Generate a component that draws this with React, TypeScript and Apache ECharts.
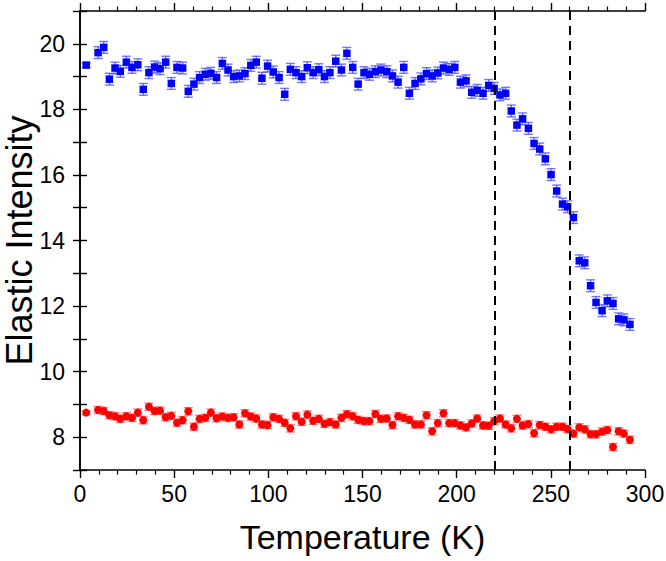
import React, { useEffect, useRef } from "react";
import * as echarts from "echarts";

const temps = [
  3.3, 9.6, 12.6, 15.6, 18.6, 21.4, 24.6, 27.6, 30.7, 33.6, 36.6, 39.6, 42.5, 45.5, 48.5, 51.5,
  54.5, 57.5, 60.5, 63.5, 66.6, 69.5, 72.5, 75.6, 78.6, 81.6, 84.6, 87.6, 90.7, 93.6, 96.6, 99.6,
  102.6, 105.7, 108.7, 111.7, 114.7, 117.7, 120.7, 123.8, 126.8, 129.8, 132.7, 135.8, 138.8, 141.7,
  144.8, 147.7, 150.8, 153.7, 156.8, 159.8, 162.9, 165.9, 168.9, 171.9, 174.9, 177.9, 181.0, 184.0,
  187.0, 190.0, 193.0, 196.0, 199.0, 202.0, 205.0, 208.0, 210.9, 214.0, 217.0, 219.9, 223.0, 226.0,
  229.0, 232.0, 235.0, 238.1, 241.1, 244.1, 247.1, 250.1, 253.1, 256.2, 258.9, 262.0, 265.1, 268.0,
  271.1, 274.0, 277.2, 280.0, 283.0, 286.0, 288.8, 292.0,
];

const blueValues = [
  19.35, 19.73, 19.89, 18.92, 19.26, 19.16, 19.44, 19.28, 19.36, 18.61, 19.12, 19.29, 19.24, 19.44,
  18.79, 19.28, 19.26, 18.55, 18.77, 18.97, 19.07, 19.1, 18.97, 19.4, 19.2, 19.0, 19.02, 19.09,
  19.34, 19.44, 18.95, 19.32, 19.14, 18.97, 18.46, 19.22, 19.12, 19.0, 19.27, 19.12, 19.21, 19.0,
  19.12, 19.47, 19.2, 19.71, 19.28, 18.77, 19.12, 19.07, 19.15, 19.2, 19.15, 19.02, 18.83, 19.28,
  18.49, 18.79, 18.93, 19.09, 19.02, 19.11, 19.26, 19.22, 19.28, 18.83, 18.87, 18.52, 18.58, 18.49,
  18.73, 18.64, 18.44, 18.49, 17.95, 17.52, 17.71, 17.42, 16.96, 16.79, 16.49, 16.01, 15.51, 15.11,
  15.03, 14.7, 13.38, 13.32, 12.62, 12.11, 11.86, 12.16, 12.08, 11.61, 11.58, 11.44,
];

const redValues = [
  8.75, 8.83, 8.8, 8.67, 8.64, 8.56, 8.64, 8.59, 8.75, 8.52, 8.93, 8.8, 8.81, 8.61, 8.65, 8.44,
  8.52, 8.79, 8.32, 8.56, 8.59, 8.75, 8.58, 8.63, 8.59, 8.61, 8.39, 8.73, 8.63, 8.57, 8.39, 8.37,
  8.61, 8.56, 8.44, 8.27, 8.64, 8.47, 8.69, 8.5, 8.56, 8.41, 8.46, 8.39, 8.59, 8.7, 8.64, 8.53,
  8.49, 8.49, 8.71, 8.56, 8.57, 8.37, 8.64, 8.59, 8.53, 8.39, 8.39, 8.67, 8.18, 8.43, 8.73, 8.43,
  8.43, 8.36, 8.3, 8.42, 8.57, 8.36, 8.35, 8.49, 8.57, 8.39, 8.27, 8.56, 8.36, 8.4, 8.12, 8.37,
  8.32, 8.24, 8.32, 8.32, 8.25, 8.11, 8.3, 8.24, 8.09, 8.09, 8.17, 8.22, 7.7, 8.18, 8.11, 7.92,
];

const BLUE_ERR = 0.18;
const BLUE_ERR_FIRST = 0.07;
const RED_ERR = 0.11;
const RED_ERR_FIRST = 0.06;

const transitionTemps = [220, 260];
const yLabelValues = [8, 10, 12, 14, 16, 18, 20];

const FONT = "'Liberation Sans', Arial, sans-serif";

function errorSeries(values: number[], err: number, errFirst: number, color: string) {
  const data = temps.map((t, i) => [t, values[i], i === 0 ? errFirst : err]);
  return {
    type: "custom",
    silent: true,
    z: 2,
    data,
    renderItem: (_params: any, api: any) => {
      const x = api.value(0);
      const y = api.value(1);
      const e = api.value(2);
      const top = api.coord([x, y + e]);
      const bot = api.coord([x, y - e]);
      const hw = 4.5;
      const style = { stroke: color, lineWidth: 1.4 };
      return {
        type: "group",
        children: [
          { type: "line", shape: { x1: top[0], y1: top[1], x2: bot[0], y2: bot[1] }, style },
          { type: "line", shape: { x1: top[0] - hw, y1: top[1], x2: top[0] + hw, y2: top[1] }, style },
          { type: "line", shape: { x1: bot[0] - hw, y1: bot[1], x2: bot[0] + hw, y2: bot[1] }, style },
        ],
      };
    },
  };
}

export default function App() {
  const ref = useRef<HTMLDivElement>(null);
  useEffect(() => {
    document.body.style.margin = "0";
    if (!ref.current) return;
    const chart = echarts.init(ref.current, null, { renderer: "svg" });
    const axisLine = { show: true, lineStyle: { color: "#000", width: 1.6 } };
    const xCommon = {
      type: "value",
      min: 0,
      max: 300,
      interval: 50,
      splitLine: { show: false },
      axisLine,
      axisTick: { show: true, length: 8, lineStyle: { color: "#000", width: 1.4 } },
      minorTick: { show: true, splitNumber: 5, length: 4.5, lineStyle: { color: "#000", width: 1.2 } },
      minorSplitLine: { show: false },
    };
    const yCommon = {
      type: "value",
      min: 7,
      max: 21,
      interval: 1,
      splitLine: { show: false },
      axisLine,
      axisTick: { show: true, length: 7, lineStyle: { color: "#000", width: 1.4 } },
    };
    chart.setOption({
      animation: false,
      backgroundColor: "#fff",
      grid: { left: 80, top: 11, width: 565, height: 459, containLabel: false, outerBoundsMode: "none" },
      xAxis: [
        {
          ...xCommon,
          position: "bottom",
          name: "Temperature (K)",
          nameLocation: "middle",
          nameGap: 50,
          nameTextStyle: { fontFamily: FONT, fontSize: 34, color: "#000" },
          axisLabel: { fontFamily: FONT, fontSize: 23, color: "#000", margin: 12 },
        },
        {
          ...xCommon,
          position: "top",
          axisLabel: { show: false },
        },
      ],
      yAxis: [
        {
          ...yCommon,
          position: "left",
          name: "Elastic Intensity",
          nameLocation: "middle",
          nameGap: 44,
          nameMoveOverlap: false,
          nameRotate: 90,
          nameTextStyle: { fontFamily: FONT, fontSize: 36, lineHeight: 34, color: "#000" },
          axisLabel: {
            fontFamily: FONT,
            fontSize: 23,
            color: "#000",
            margin: 15,
            formatter: (v: number) => (yLabelValues.includes(v) ? String(v) : ""),
          },
        },
        {
          ...yCommon,
          position: "right",
          axisLabel: { show: false },
        },
      ],
      series: [
        errorSeries(blueValues, BLUE_ERR, BLUE_ERR_FIRST, "rgba(70,70,255,0.75)"),
        errorSeries(redValues, RED_ERR, RED_ERR_FIRST, "rgba(255,80,80,0.75)"),
        {
          type: "scatter",
          z: 3,
          symbol: "rect",
          symbolSize: 7.5,
          itemStyle: { color: "#0000ff", opacity: 1 },
          data: temps.map((t, i) => [t, blueValues[i]]),
          markLine: {
            silent: true,
            symbol: "none",
            label: { show: false },
            lineStyle: { color: "#000", type: [9, 6], width: 2 },
            data: transitionTemps.map((t) => ({ xAxis: t })),
          },
        },
        {
          type: "scatter",
          z: 3,
          symbol: "circle",
          symbolSize: 8,
          itemStyle: { color: "#ff0000", opacity: 1 },
          data: temps.map((t, i) => [t, redValues[i]]),
        },
      ],
    });
    return () => chart.dispose();
  }, []);
  return <div ref={ref} style={{ width: 666, height: 561 }} />;
}
